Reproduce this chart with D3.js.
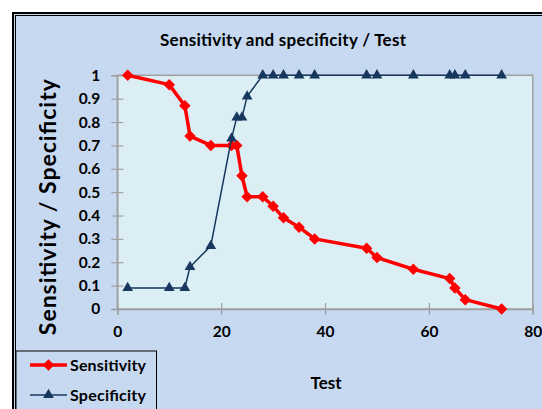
<!DOCTYPE html>
<html>
<head>
<meta charset="utf-8">
<script src="https://cdn.jsdelivr.net/npm/d3@7"></script>
<style>
  body { margin: 0; background: #fff; }
  text { font-family: Lato, 'Open Sans', sans-serif; font-weight: bold; fill: #000; }
</style>
</head>
<body>
<svg id="chart" width="542" height="409"></svg>
<script>
var tests = [2, 10, 13, 14, 18, 22, 23, 24, 25, 28, 30, 32, 35, 38, 48, 50, 57, 64, 65, 67, 74];
var sensitivity = [1, 0.96, 0.87, 0.74, 0.70, 0.70, 0.70, 0.57, 0.48, 0.48, 0.44, 0.39, 0.35, 0.30, 0.26, 0.22, 0.17, 0.13, 0.09, 0.04, 0];
var specificity = [0.09, 0.09, 0.09, 0.18, 0.27, 0.73, 0.82, 0.82, 0.91, 1, 1, 1, 1, 1, 1, 1, 1, 1, 1, 1, 1];
var xTicks = [0, 20, 40, 60, 80];
var yTicks = [0, 0.1, 0.2, 0.3, 0.4, 0.5, 0.6, 0.7, 0.8, 0.9, 1];
var seriesNames = ['Sensitivity', 'Specificity'];

const red = '#ff0000';
const navy = '#17375e';

var svg = d3.select('#chart');

var x = d3.scaleLinear().domain([0, 80]).range([117.3, 532.8]);
var y = d3.scaleLinear().domain([0, 1]).range([309, 75.3]);

// chart area + double border
svg.append('rect')
  .attr('x', 13).attr('y', 13).attr('width', 560).attr('height', 420)
  .attr('fill', '#c6d9f1').attr('stroke', '#000').attr('stroke-width', 2);
svg.append('rect')
  .attr('x', 15.5).attr('y', 15.5).attr('width', 560).attr('height', 420)
  .attr('fill', 'none').attr('stroke', '#000').attr('stroke-width', 1);

// plot area
svg.append('rect')
  .attr('x', x(0)).attr('y', y(1))
  .attr('width', x(80) - x(0)).attr('height', y(0) - y(1))
  .attr('fill', '#dbeef4').attr('stroke', '#a0a0a0').attr('stroke-width', 1.5);

svg.append('text')
  .attr('x', 283).attr('y', 46)
  .attr('text-anchor', 'middle')
  .attr('textLength', 246)
  .style('font-size', '17px')
  .text('Sensitivity and specificity / Test');

renderAxes();
renderSeries(sensitivity, red, 3.5, 'diamond');
renderSeries(specificity, navy, 1.5, 'triangle');
renderLegend();

function renderAxes() {
  var yAxis = svg.append('g')
    .attr('transform', `translate(${x(0)},0)`)
    .call(d3.axisLeft(y).tickValues(yTicks).tickSize(6).tickFormat(d3.format('~g')));
  var xAxis = svg.append('g')
    .attr('transform', `translate(0,${y(0)})`)
    .call(d3.axisBottom(x).tickValues(xTicks).tickSize(6));

  [yAxis, xAxis].forEach(function(ax) {
    ax.select('.domain').attr('stroke', '#a0a0a0').attr('stroke-width', 1.5);
    ax.selectAll('.tick line').attr('stroke', '#a0a0a0').attr('stroke-width', 1.2);
    ax.selectAll('.tick text')
      .style('font-family', 'Lato, sans-serif').style('font-weight', 'bold')
      .style('font-size', '15.5px').attr('fill', '#000');
  });
  // ticks cross the axis
  yAxis.selectAll('.tick line').attr('x1', 6);
  yAxis.selectAll('.tick text').attr('x', -17);
  xAxis.selectAll('.tick line').attr('y1', -6);
  xAxis.selectAll('.tick text').attr('y', 17);

  svg.append('text')
    .attr('transform', `translate(56,${(y(0) + y(1)) / 2 + 15}) rotate(-90)`)
    .attr('text-anchor', 'middle')
    .attr('textLength', 256)
    .style('font-size', '23px')
    .text('Sensitivity / Specificity');

  svg.append('text')
    .attr('x', 326).attr('y', 389)
    .attr('text-anchor', 'middle')
    .style('font-size', '17px')
    .text('Test');
}

function markerPath(kind) {
  if (kind === 'diamond') {
    return d3.symbol().type(d3.symbolSquare).size(66)();
  }
  return d3.symbol().type(d3.symbolTriangle).size(50)();
}

function markerTransform(kind, cx, cy) {
  return kind === 'diamond'
    ? `translate(${cx},${cy}) rotate(45)`
    : `translate(${cx},${cy})`;
}

function renderSeries(values, color, width, kind) {
  var line = d3.line()
    .x(function(d, i) { return x(tests[i]); })
    .y(function(d) { return y(d); });

  svg.append('path')
    .datum(values)
    .attr('d', line)
    .attr('fill', 'none')
    .attr('stroke', color)
    .attr('stroke-width', width)
    .attr('stroke-linejoin', 'round');

  svg.append('g').selectAll('path')
    .data(values)
    .enter()
    .append('path')
    .attr('d', markerPath(kind))
    .attr('transform', function(d, i) { return markerTransform(kind, x(tests[i]), y(d)); })
    .attr('fill', color);
}

function renderLegend() {
  var g = svg.append('g');
  g.append('rect')
    .attr('x', 16).attr('y', 351).attr('width', 140.5).attr('height', 70)
    .attr('fill', '#c6d9f1').attr('stroke', '#000').attr('stroke-width', 1);

  var rows = [
    { name: seriesNames[0], color: red, width: 3.5, kind: 'diamond', cy: 365 },
    { name: seriesNames[1], color: navy, width: 1.5, kind: 'triangle', cy: 395 }
  ];
  rows.forEach(function(r) {
    g.append('line')
      .attr('x1', 30).attr('x2', 67).attr('y1', r.cy).attr('y2', r.cy)
      .attr('stroke', r.color).attr('stroke-width', r.width);
    g.append('path')
      .attr('d', markerPath(r.kind))
      .attr('transform', markerTransform(r.kind, 48.5, r.cy))
      .attr('fill', r.color);
    g.append('text')
      .attr('x', 70).attr('y', r.cy + 6)
      .attr('textLength', 76)
      .style('font-size', '16px')
      .text(r.name);
  });
}
</script>
</body>
</html>
